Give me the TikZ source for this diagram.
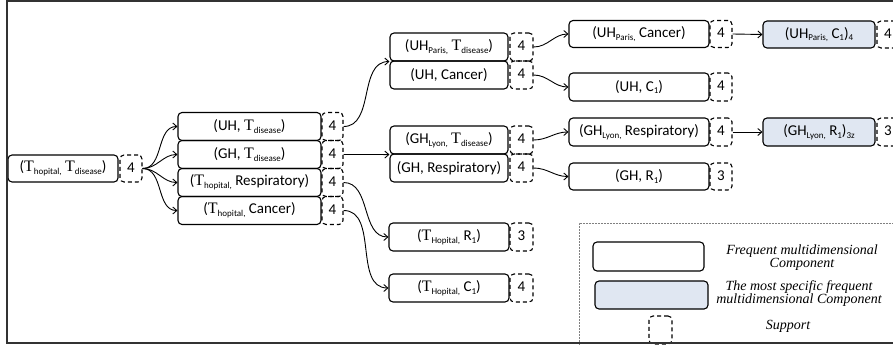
\documentclass[tikz,border=0pt]{standalone}
\usepackage{fontspec}
\setmainfont{Carlito}
\newfontfamily\serifT{Liberation Serif}
\newfontfamily\legendfont{Liberation Serif}
\usetikzlibrary{arrows.meta}
\definecolor{specblue}{RGB}{224,231,242}
\definecolor{framegray}{RGB}{50,50,50}
\newcommand\lo[1]{\raisebox{-2.8pt}{\fontsize{9}{9}\selectfont #1}}
\newcommand\TT{{\serifT\fontsize{16}{16}\selectfont T}}
\newcommand\up[1]{\raisebox{2.5pt}{#1}}
\begin{document}
\begin{tikzpicture}[x=1pt,y=-1pt,
  comp/.style={draw, line width=1.1pt, rounded corners=4pt, minimum height=28pt, inner sep=0pt, font=\fontsize{15}{15}\selectfont},
  spec/.style={comp, fill=specblue},
  supp/.style={draw, dash pattern=on 4pt off 3pt, line width=1.1pt, rounded corners=4pt, minimum width=22pt, minimum height=28pt, inner sep=0pt, font=\fontsize{15}{15}\selectfont},
  conn/.style={line width=0.9pt, -{Straight Barb[length=4pt,width=7pt]}},
  legtext/.style={font=\legendfont\itshape\fontsize{14}{11.5}\selectfont, align=center, inner sep=0pt},
]
\useasboundingbox (0,0) rectangle (893,345);

% root
\node[comp, minimum width=110pt, minimum height=27pt] (r) at (63,168.5) {(\TT\lo{hopital,} \TT\lo{disease})};
\node[supp, minimum height=27pt] (rs) at (131,168.5) {\up{4}};

% level 1
\node[comp, minimum width=143pt] (a1) at (249.5,126.5) {(UH, \TT\lo{disease})};
\node[comp, minimum width=143pt] (a2) at (249.5,154.5) {(GH, \TT\lo{disease})};
\node[comp, minimum width=143pt] (a3) at (249.5,182.5) {(\TT\lo{hopital,} Respiratory)};
\node[comp, minimum width=143pt] (a4) at (249.5,210.5) {(\TT\lo{hopital,} Cancer)};
\node[supp, minimum width=21pt] (sa1) at (332.5,126.5) {\up{4}};
\node[supp, minimum width=21pt] (sa2) at (332.5,154.5) {\up{4}};
\node[supp, minimum width=21pt] (sa3) at (332.5,182.5) {\up{4}};
\node[supp, minimum width=21pt] (sa4) at (332.5,210.5) {\up{4}};

% level 2
\node[comp, minimum width=118pt] (b1) at (449,47) {(UH\lo{Paris,} \TT\lo{disease})};
\node[comp, minimum width=118pt] (b2) at (449,75) {(UH, Cancer)};
\node[comp, minimum width=118pt] (b3) at (449,140) {(GH\lo{Lyon,} \TT\lo{disease})};
\node[comp, minimum width=118pt] (b4) at (449,168) {(GH, Respiratory)};
\node[comp, minimum width=120pt] (b5) at (449,237) {(\TT\lo{Hopital,} R\lo{1})};
\node[comp, minimum width=120pt] (b6) at (449,288) {(\TT\lo{Hopital,} C\lo{1})};
\node[supp, minimum width=23pt] (sb1) at (521.5,47) {\up{4}};
\node[supp, minimum width=23pt] (sb2) at (521.5,75) {\up{4}};
\node[supp, minimum width=23pt] (sb3) at (521.5,140) {\up{4}};
\node[supp, minimum width=23pt] (sb4) at (521.5,168) {\up{4}};
\node[supp, minimum width=23pt] (sb5) at (521.5,237) {\up{3}};
\node[supp, minimum width=23pt] (sb6) at (521.5,288) {\up{4}};

% level 3
\node[comp, minimum width=140pt, minimum height=27pt] (c1) at (639,34) {(UH\lo{Paris,} Cancer)};
\node[comp, minimum width=140pt] (c2) at (639,87) {(UH, C\lo{1})};
\node[comp, minimum width=140pt] (c3) at (639,132) {(GH\lo{Lyon,} Respiratory)};
\node[comp, minimum width=140pt, minimum height=27pt] (c4) at (639,176.5) {(GH, R\lo{1})};
\node[supp, minimum height=27pt] (sc1) at (721,34) {\up{4}};
\node[supp] (sc2) at (721,87) {\up{4}};
\node[supp] (sc3) at (721,132) {\up{4}};
\node[supp, minimum height=27pt] (sc4) at (721,176.5) {\up{3}};

% level 4
\node[spec, minimum width=112pt, minimum height=27pt] (d1) at (819,34.5) {(UH\lo{Paris,} C\lo{1})\lo{4}};
\node[spec, minimum width=112pt] (d2) at (819,132) {(GH\lo{Lyon,} R\lo{1})\lo{3z}};
\node[supp, minimum height=27pt] (sd1) at (888,34.5) {\up{4}};
\node[supp] (sd2) at (888,132) {\up{3}};

% connectors
\foreach \t in {a1,a2,a3,a4}
  \draw[conn] (rs.east) to[out=0,in=180] (\t.west);
\draw[conn] (sa1.east) to[out=0,in=180] (b1.south west);
\draw[conn] (sa2.east) to[out=0,in=180] (b3.south west);
\draw[conn] (sa3.east) to[out=0,in=180] (b5.west);
\draw[conn] (sa4.east) to[out=0,in=180] (b6.west);
\draw[conn] (sb1.east) to[out=0,in=180] (c1.west);
\draw[conn] (sb2.east) to[out=0,in=180] (c2.west);
\draw[conn] (sb3.east) to[out=0,in=180] (c3.west);
\draw[conn] (sb4.east) to[out=0,in=180] (c4.west);
\draw[conn] (sc1.east) -- (d1.west);
\draw[conn] (sc3.east) -- (d2.west);

% legend
\coordinate (lgtr) at (900,223);
\coordinate (lgtl) at (579,223);
\coordinate (lgbl) at (579,345);
\draw[gray, dash pattern=on 2pt off 1pt, line width=0.7pt] (lgtr) -- (lgtl) -- (lgbl);
\node[comp, minimum width=111pt, minimum height=29pt] (lg1) at (648.5,256.5) {};
\node[spec, minimum width=113pt, minimum height=28pt] (lg2) at (651.5,295) {};
\node[supp, minimum width=23pt, minimum height=28pt] (lg3) at (660.5,330) {};
\node[legtext] (lt1) at (802,258) {Frequent multidimensional\\Component};
\node[legtext] (lt2) at (799,293.5) {The most specific frequent\\multidimensional Component};
\node[legtext] (lt3) at (788,326) {Support};

% frame
\coordinate (f1) at (893,1);
\coordinate (f2) at (7,1);
\coordinate (f3) at (7,343);
\coordinate (f4) at (893,343);
\draw[framegray, line width=2pt] (f1) -- (f2) -- (f3) -- (f4);
\end{tikzpicture}
\end{document}
